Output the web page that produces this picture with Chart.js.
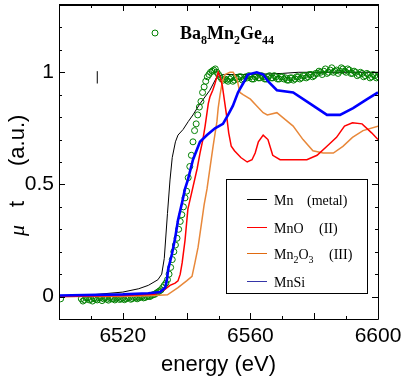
<!DOCTYPE html>
<html><head><meta charset="utf-8">
<script src="https://cdn.jsdelivr.net/npm/chart.js@4.4.0/dist/chart.umd.min.js"></script>
<style>html,body{margin:0;padding:0;background:#fff;}canvas{display:block;}</style>
</head><body>
<canvas id="c" width="415" height="379"></canvas>
<script>
// ---- tick labels ----
const xTickLabels = [6520, 6560, 6600];
const yTickLabels = [0, 0.5, 1];

// ---- Mn (metal) ----
const mnE = [6500, 6505, 6512, 6520, 6525, 6528, 6531, 6532.2, 6533, 6534, 6534.8, 6535.5, 6536.5, 6537.3, 6538.9, 6540.5, 6542, 6544.2, 6547.3, 6549.5, 6551.5, 6555, 6560, 6570, 6575, 6580, 6590, 6600];
const mnV = [0.0, 0.0, 0.01, 0.02, 0.035, 0.05, 0.075, 0.1, 0.17, 0.37, 0.52, 0.62, 0.69, 0.72, 0.745, 0.78, 0.81, 0.86, 0.92, 0.98, 0.99, 0.99, 0.99, 0.995, 1.0, 1.0, 1.0, 1.0];

// ---- MnO (II) ----
const mnoE = [6500, 6520, 6530, 6533, 6534.8, 6536.4, 6537.3, 6538, 6538.6, 6539.5, 6540.4, 6541.7, 6543.3, 6544.2, 6545.1, 6545.8, 6546.4, 6546.8, 6547.3, 6548.2, 6548.9, 6549.5, 6549.9, 6550.5, 6551.2, 6552.0, 6552.6, 6553.2, 6554, 6555, 6557, 6559, 6560.5, 6561.5, 6562.5, 6564, 6565.5, 6567, 6569.3, 6573.4, 6577.7, 6580.9, 6584, 6587, 6589.5, 6592, 6595, 6598, 6600];
const mnoV = [0.0, 0.005, 0.01, 0.03, 0.05, 0.06, 0.07, 0.1, 0.15, 0.25, 0.39, 0.47, 0.57, 0.64, 0.70, 0.76, 0.82, 0.86, 0.89, 0.92, 0.95, 0.98, 1.0, 0.98, 0.94, 0.86, 0.8, 0.73, 0.67, 0.65, 0.62, 0.60, 0.61, 0.64, 0.69, 0.72, 0.70, 0.63, 0.61, 0.61, 0.61, 0.63, 0.67, 0.71, 0.76, 0.775, 0.77, 0.73, 0.70];

// ---- Mn2O3 (III) ----
const mn2o3E = [6500, 6520, 6530, 6534, 6537.3, 6540, 6541.7, 6542.6, 6543.6, 6544.8, 6545.5, 6546.4, 6547.3, 6548.3, 6549.5, 6549.9, 6550.5, 6551.1, 6552, 6553.6, 6554.6, 6555.8, 6556.7, 6557.7, 6560, 6562, 6564, 6565.3, 6568.3, 6570, 6573.4, 6576.5, 6579.6, 6582.8, 6586, 6589, 6592, 6595.3, 6600];
const mn2o3V = [0.0, 0.0, 0.005, 0.008, 0.04, 0.07, 0.09, 0.15, 0.22, 0.34, 0.41, 0.48, 0.57, 0.67, 0.78, 0.84, 0.9, 0.95, 0.99, 1.0, 1.0, 0.97, 0.91, 0.9, 0.88, 0.85, 0.82, 0.81, 0.82, 0.80, 0.76, 0.70, 0.65, 0.64, 0.64, 0.67, 0.71, 0.74, 0.76];

// ---- MnSi ----
const mnsiE = [6500, 6520, 6528, 6531.7, 6533.3, 6533.9, 6534.2, 6535.4, 6536.4, 6537.3, 6538.6, 6539.5, 6540.4, 6542, 6544.2, 6546.4, 6548.9, 6551.4, 6553, 6554.5, 6556.1, 6557.7, 6559.2, 6562, 6564, 6565.5, 6568.3, 6573.4, 6578.7, 6584, 6588.1, 6592.2, 6596.6, 6600];
const mnsiV = [0.005, 0.01, 0.015, 0.02, 0.04, 0.08, 0.12, 0.19, 0.26, 0.34, 0.42, 0.48, 0.52, 0.61, 0.69, 0.72, 0.75, 0.77, 0.81, 0.85, 0.91, 0.95, 0.99, 1.0, 0.99, 0.96, 0.92, 0.91, 0.86, 0.81, 0.81, 0.84, 0.88, 0.91];

// ---- Ba8Mn2Ge44 (circles) ----
const bmgE = [6500.5,
  6507, 6507.5, 6508, 6508.5, 6509, 6509.5, 6510, 6510.5, 6511, 6511.5, 6512, 6512.5, 6513, 6513.5, 6514, 6514.5, 6515, 6515.5, 6516, 6516.5, 6517, 6517.5, 6518, 6518.5, 6519, 6519.5,
  6520, 6520.5, 6521, 6521.5, 6522, 6522.5, 6523, 6523.5, 6524, 6524.5, 6525, 6525.5, 6526, 6526.5, 6527, 6527.5, 6528, 6528.5, 6529, 6529.5, 6530, 6530.5, 6531, 6531.5,
  6532, 6532.5, 6533, 6533.5, 6534, 6534.5, 6535, 6535.5, 6536, 6536.5, 6537, 6537.5, 6538, 6538.5, 6539, 6539.5, 6540, 6540.5, 6541, 6541.5, 6542, 6542.5, 6543, 6543.5, 6544, 6544.5, 6545, 6545.5, 6546, 6546.5, 6547, 6547.5, 6548, 6548.5, 6549, 6549.5, 6550, 6550.5, 6551, 6551.5,
  6552, 6552.5, 6553, 6553.5, 6554, 6554.5, 6555, 6555.5, 6556, 6556.5, 6557, 6557.5, 6558, 6558.5, 6559, 6559.5, 6560, 6560.5, 6561, 6561.5, 6562, 6562.5, 6563, 6563.5, 6564, 6564.5, 6565, 6565.5,
  6566, 6566.5, 6567, 6567.5, 6568, 6568.5, 6569, 6569.5, 6570, 6570.5, 6571, 6571.5, 6572, 6572.5, 6573, 6573.5, 6574, 6574.5, 6575, 6575.5, 6576, 6576.5, 6577, 6577.5, 6578, 6578.5, 6579, 6579.5,
  6580, 6580.5, 6581, 6581.5, 6582, 6582.5, 6583, 6583.5, 6584, 6584.5, 6585, 6585.5, 6586, 6586.5, 6587, 6587.5, 6588, 6588.5, 6589, 6589.5, 6590, 6590.5, 6591, 6591.5, 6592, 6592.5, 6593, 6593.5,
  6594, 6594.5, 6595, 6595.5, 6596, 6596.5, 6597, 6597.5, 6598, 6598.5, 6599, 6599.5, 6600];
const bmgV = [-0.01,
  -0.01, -0.02, -0.015, -0.005, -0.005, -0.015, -0.012, -0.02, -0.008, -0.012, -0.015, -0.005, -0.005, -0.018, -0.01, -0.006, -0.012, -0.016, -0.004, -0.01, -0.01, -0.015, -0.008, -0.004, -0.013, -0.01,
  -0.006, -0.014, -0.01, -0.005, -0.004, -0.012, -0.009, -0.004, -0.003, -0.01, -0.006, -0.002, 0.0, -0.006, -0.004, 0.0, 0.002, 0.0, 0.005, 0.008, 0.01, 0.015, 0.02, 0.025,
  0.03, 0.04, 0.05, 0.06, 0.075, 0.1, 0.13, 0.165, 0.2, 0.23, 0.26, 0.3, 0.335, 0.365, 0.4, 0.44, 0.47, 0.53, 0.58, 0.63, 0.69, 0.74, 0.77, 0.81, 0.845, 0.87, 0.91, 0.935, 0.96, 0.98, 0.99, 1.0, 1.005, 1.01, 1.015, 1.0, 0.99, 0.98, 0.97, 0.965,
  0.97, 0.965, 0.96, 0.97, 0.975, 0.96, 0.965, 0.975, 0.97, 0.98, 0.98, 0.965, 0.97, 0.98, 0.975, 0.985, 0.98, 0.97, 0.97, 0.98, 0.985, 0.975, 0.975, 0.985, 0.98, 0.97, 0.97, 0.98,
  0.985, 0.975, 0.975, 0.985, 0.98, 0.97, 0.97, 0.98, 0.98, 0.97, 0.975, 0.965, 0.965, 0.975, 0.975, 0.965, 0.97, 0.98, 0.98, 0.97, 0.975, 0.985, 0.985, 0.975, 0.98, 0.99, 0.99, 0.98,
  0.985, 0.995, 0.995, 1.005, 1.0, 0.99, 1.005, 1.015, 0.995, 1.0, 1.01, 1.02, 1.0, 1.005, 1.01, 0.995, 1.005, 1.02, 1.015, 1.005, 1.0, 1.015, 1.01, 0.995, 0.995, 1.005, 1.0, 0.985,
  0.99, 1.0, 0.995, 0.98, 0.985, 0.995, 0.99, 0.975, 0.98, 0.99, 0.985, 0.975, 0.98];

// ---- error bar ----
const errE = [6512, 6512];
const errV = [0.95, 1.005];

function pts(E, V) { return E.map((e, i) => ({x: e, y: V[i]})); }

const SANS = '"Liberation Sans", Arial, sans-serif';
const SERIF = '"Liberation Serif", "Times New Roman", serif';

function drawRich(ctx, parts, x, y, size, subSize, bold) {
  let cx = x;
  parts.forEach(p => {
    const s = p.sub ? subSize : size;
    ctx.font = (bold ? 'bold ' : '') + s + 'px ' + SERIF;
    ctx.fillText(p.t, cx, y + (p.sub ? Math.round(size * 0.28) : 0));
    cx += ctx.measureText(p.t).width;
  });
}

const framePlugin = {
  id: 'frame',
  afterDatasetsDraw(chart) {
    const {ctx, chartArea: a, scales: {x, y}} = chart;
    ctx.save();
    ctx.strokeStyle = '#000';
    ctx.lineWidth = 1;
    ctx.beginPath();
    ctx.moveTo(a.left + 0.5, a.top); ctx.lineTo(a.left + 0.5, a.bottom + 0.5);
    ctx.lineTo(a.right + 0.5, a.bottom + 0.5); ctx.lineTo(a.right + 0.5, a.top);
    x.ticks.forEach(t => {
      const px = Math.round(x.getPixelForValue(t.value)) + 0.5;
      const major = Math.round(t.value - 6500) % 20 === 0;
      const L = major ? 6 : 3;
      ctx.moveTo(px, a.bottom); ctx.lineTo(px, a.bottom - L);
      ctx.moveTo(px, a.top); ctx.lineTo(px, a.top + L);
    });
    y.ticks.forEach(t => {
      const py = Math.round(y.getPixelForValue(t.value)) + 0.5;
      const major = Math.round(t.value * 10) % 5 === 0;
      const L = major ? 6 : 3;
      ctx.moveTo(a.left, py); ctx.lineTo(a.left + L, py);
      ctx.moveTo(a.right, py); ctx.lineTo(a.right - L, py);
    });
    ctx.stroke();
    ctx.lineWidth = 2;
    ctx.beginPath();
    ctx.moveTo(a.left, a.top); ctx.lineTo(a.right + 1, a.top);
    ctx.stroke();
    ctx.restore();
  },
  afterDraw(chart) {
    const {ctx} = chart;
    ctx.save();
    // legend box
    ctx.fillStyle = '#fff';
    ctx.fillRect(226, 179, 141, 114);
    ctx.strokeStyle = '#000';
    ctx.lineWidth = 1;
    ctx.strokeRect(226.5, 179.5, 141, 114);
    const rows = [
      {c: '#000000', y: 199, parts: [{t: 'Mn'}], extra: '(metal)', ex: 307},
      {c: '#ff0000', y: 227, parts: [{t: 'MnO'}], extra: '(II)', ex: 319},
      {c: '#e06a10', y: 253, parts: [{t: 'Mn'}, {t: '2', sub: 1}, {t: 'O'}, {t: '3', sub: 1}], extra: '(III)', ex: 329},
      {c: '#3535a8', y: 281, parts: [{t: 'MnSi'}], extra: '', ex: 0}
    ];
    ctx.textBaseline = 'alphabetic';
    ctx.textAlign = 'left';
    rows.forEach(r => {
      ctx.strokeStyle = r.c;
      ctx.lineWidth = 1;
      ctx.beginPath();
      ctx.moveTo(247, r.y + 0.5); ctx.lineTo(267, r.y + 0.5);
      ctx.stroke();
      ctx.fillStyle = '#000';
      drawRich(ctx, r.parts, 274, r.y + 6, 14, 10, false);
      if (r.extra) {
        ctx.font = '14px ' + SERIF;
        ctx.fillText(r.extra, r.ex, r.y + 6);
      }
    });
    // top legend
    ctx.strokeStyle = '#008000';
    ctx.lineWidth = 1;
    ctx.beginPath();
    ctx.arc(155, 33, 3, 0, Math.PI * 2);
    ctx.stroke();
    ctx.fillStyle = '#000';
    drawRich(ctx, [{t: 'Ba'}, {t: '8', sub: 1}, {t: 'Mn'}, {t: '2', sub: 1}, {t: 'Ge'}, {t: '44', sub: 1}], 180, 39, 18, 12, true);
    // y title
    ctx.translate(24, 236);
    ctx.rotate(-Math.PI / 2);
    ctx.fillStyle = '#000';
    ctx.font = 'italic 22px ' + SERIF;
    ctx.fillText('\u03bc', 0, 0);
    ctx.font = '22px ' + SANS;
    ctx.fillText('t', 29, 0);
    ctx.fillText('(a.u.)', 70, 0);
    ctx.restore();
  }
};

new Chart(document.getElementById('c'), {
  type: 'scatter',
  data: {
    datasets: [
      {label: 'MnSi', data: pts(mnsiE, mnsiV), showLine: true, borderColor: '#0000ff', borderWidth: 2.6, pointRadius: 0, order: 0},
      {label: 'MnO', data: pts(mnoE, mnoV), showLine: true, borderColor: '#ff0000', borderWidth: 1.5, pointRadius: 0, order: 1},
      {label: 'Mn2O3', data: pts(mn2o3E, mn2o3V), showLine: true, borderColor: '#e8883a', borderWidth: 1.5, pointRadius: 0, order: 2},
      {label: 'Ba8Mn2Ge44', data: pts(bmgE, bmgV), showLine: false, borderColor: '#008000', backgroundColor: 'rgba(0,0,0,0)', borderWidth: 1, pointRadius: 3, order: 3},
      {label: 'Mn', data: pts(mnE, mnV), showLine: true, borderColor: '#000000', borderWidth: 1, pointRadius: 0, order: 4},
      {label: 'err', data: pts(errE, errV), showLine: true, borderColor: '#000000', borderWidth: 1, pointRadius: 0, order: 5}
    ]
  },
  options: {
    responsive: false,
    devicePixelRatio: 1,
    animation: false,
    events: [],
    layout: {padding: {top: 0, right: 37, left: 0, bottom: 0}},
    plugins: {legend: {display: false}, tooltip: {enabled: false}},
    scales: {
      x: {
        type: 'linear', min: 6500, max: 6600,
        grid: {display: false, drawTicks: false},
        border: {display: false},
        ticks: {
          stepSize: 10, autoSkip: false, maxRotation: 0, padding: 5,
          color: '#000', font: {family: SANS, size: 21},
          callback: v => xTickLabels.includes(Math.round(v)) ? String(Math.round(v)) : ''
        },
        title: {display: true, text: 'energy (eV)', color: '#000', font: {family: SANS, size: 22}, padding: {top: 0, bottom: 1}},
        afterFit: s => { s.height = 60; s.paddingLeft = 0; s.paddingRight = 0; }
      },
      y: {
        type: 'linear', min: -0.1, max: 1.3,
        grid: {display: false, drawTicks: false},
        border: {display: false},
        ticks: {
          stepSize: 0.1, autoSkip: false, padding: 5,
          color: '#000', font: {family: SANS, size: 21},
          callback: v => { const r = Math.round(v * 10) / 10; return yTickLabels.includes(r) ? String(r) : ''; }
        },
        afterFit: s => { s.width = 59; s.paddingTop = 0; s.paddingBottom = 0; }
      }
    }
  },
  plugins: [framePlugin]
});
</script>
</body></html>
